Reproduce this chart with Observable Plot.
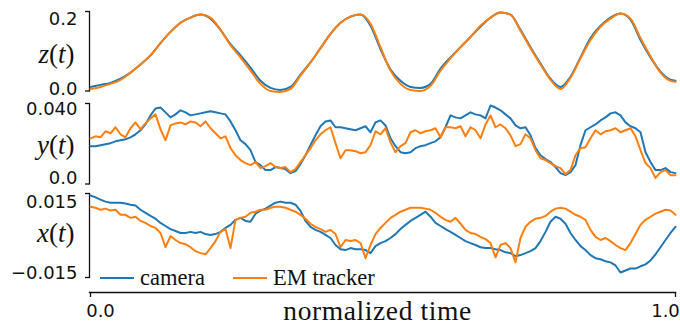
<!DOCTYPE html>
<html><head><meta charset="utf-8">
<script src="https://cdn.jsdelivr.net/npm/d3@7"></script>
<script src="https://cdn.jsdelivr.net/npm/@observablehq/plot@0.6"></script>
<style>
body{margin:0;background:#fff;}
#chart{position:relative;width:680px;height:326px;overflow:hidden;background:#fff;}
#chart svg{display:block;}
</style></head><body><div id="chart"></div>
<script>
// ---- data ----
const seriesNames = ["camera", "EM tracker"];
const seriesColors = ["#1f77b4", "#ff7f0e"];
const xLabel = "normalized time";
const xTicks = [0, 1];
const xTickLabels = ["0.0", "1.0"];

// z(t) panel (sampled every ~1.7% of normalized time)
const zTime = d3.range(60).map(i => Math.min(1, i / 58.5));
const zCamera = [.0103,.0154,.0205,.0308,.0462,.0667,.0897,.1205,.1487,.1718,.1846,.1923,.1821,.1538,.1179,.0897,.0590,.0256,.0077,.0026,.0103,.0410,.0718,.1077,.1436,.1718,.1872,.1923,.1641,.1051,.0538,.0256,.0103,.0077,.0179,.0564,.0846,.1103,.1359,.1615,.1846,.1974,.1923,.1538,.1103,.0692,.0308,.0103,.0359,.0846,.1333,.1641,.1846,.1949,.1795,.1282,.0846,.0487,.0282,.0256];
const zTracker = [.0051,.0103,.0179,.0282,.0462,.0667,.0897,.1205,.1487,.1718,.1846,.1923,.1846,.1538,.1154,.0846,.0513,.0179,.0000,-.0026,.0051,.0385,.0718,.1077,.1436,.1718,.1872,.1923,.1692,.1103,.0513,.0179,.0026,.0000,.0128,.0513,.0821,.1103,.1359,.1641,.1846,.1974,.1923,.1513,.1077,.0667,.0282,.0051,.0333,.0821,.1282,.1615,.1821,.1949,.1821,.1333,.0872,.0462,.0256,.0231];
const zTicks = [0, 0.2];
const zTickLabels = ["0.0", "0.2"];

// y(t) and x(t) panels (118 samples)
const tTime = d3.range(118).map(i => i / 117);
const yCamera = [.0188,.0188,.0193,.0198,.0203,.0212,.0217,.0222,.0232,.0247,.0267,.0296,.0341,.0375,.0380,.0356,.0331,.0346,.0366,.0356,.0341,.0346,.0351,.0356,.0361,.0356,.0351,.0346,.0311,.0267,.0217,.0198,.0168,.0109,.0094,.0069,.0069,.0084,.0079,.0074,.0054,.0064,.0099,.0143,.0193,.0242,.0287,.0311,.0316,.0282,.0282,.0277,.0272,.0267,.0277,.0287,.0257,.0306,.0316,.0291,.0227,.0188,.0158,.0153,.0158,.0178,.0188,.0193,.0203,.0212,.0232,.0282,.0341,.0331,.0326,.0341,.0356,.0346,.0341,.0326,.0390,.0380,.0366,.0346,.0326,.0291,.0277,.0282,.0242,.0178,.0143,.0124,.0109,.0084,.0054,.0044,.0059,.0094,.0193,.0267,.0282,.0296,.0316,.0331,.0351,.0356,.0341,.0306,.0287,.0277,.0257,.0158,.0109,.0069,.0069,.0079,.0059,.0054];
const yTracker = [.0227,.0237,.0232,.0262,.0252,.0282,.0247,.0232,.0277,.0306,.0272,.0301,.0326,.0346,.0272,.0217,.0291,.0301,.0306,.0296,.0311,.0306,.0287,.0311,.0277,.0252,.0227,.0237,.0178,.0143,.0119,.0104,.0094,.0109,.0079,.0089,.0104,.0084,.0079,.0084,.0059,.0074,.0109,.0143,.0178,.0217,.0247,.0267,.0282,.0203,.0128,.0168,.0168,.0163,.0153,.0158,.0193,.0262,.0247,.0277,.0207,.0158,.0188,.0203,.0257,.0267,.0252,.0262,.0267,.0277,.0232,.0282,.0282,.0277,.0287,.0237,.0282,.0267,.0227,.0296,.0341,.0282,.0296,.0277,.0242,.0188,.0198,.0247,.0227,.0168,.0128,.0119,.0104,.0089,.0079,.0049,.0069,.0143,.0178,.0183,.0227,.0267,.0247,.0262,.0267,.0277,.0257,.0267,.0277,.0237,.0168,.0104,.0079,.0030,.0059,.0069,.0044,.0044];
const yTicks = [0, 0.04];
const yTickLabels = ["0.0", "0.040"];

const xCamera = [.0143,.0136,.0128,.0121,.0117,.0117,.0117,.0114,.0110,.0107,.0092,.0081,.0070,.0060,.0045,.0034,.0023,.0016,.0009,.0009,.0013,.0009,.0013,.0005,.0002,.0005,.0013,.0027,.0038,.0056,.0063,.0052,.0049,.0078,.0089,.0096,.0107,.0117,.0121,.0117,.0117,.0110,.0088,.0052,.0031,.0020,.0013,.0002,-.0009,-.0034,-.0049,-.0052,-.0045,-.0049,-.0049,-.0052,-.0063,-.0038,-.0027,-.0020,-.0009,.0005,.0023,.0038,.0052,.0063,.0074,.0085,.0067,.0045,.0034,.0023,.0013,.0002,-.0009,-.0020,-.0027,-.0034,-.0042,-.0045,-.0045,-.0049,-.0052,-.0060,-.0063,-.0074,-.0070,-.0063,-.0056,-.0045,-.0020,.0013,.0049,.0067,.0060,.0042,.0009,-.0016,-.0038,-.0052,-.0070,-.0081,-.0085,-.0092,-.0096,-.0107,-.0132,-.0125,-.0118,-.0118,-.0110,-.0103,-.0089,-.0067,-.0042,-.0016,.0009,.0031];
const xTracker = [.0103,.0099,.0092,.0096,.0089,.0092,.0074,.0074,.0063,.0067,.0052,.0045,.0034,.0027,.0009,-.0042,-.0002,-.0016,-.0027,-.0031,-.0042,-.0056,-.0063,-.0067,-.0045,-.0020,.0013,.0023,-.0045,.0056,.0063,.0067,.0081,.0085,.0092,.0092,.0099,.0103,.0103,.0099,.0092,.0085,.0074,.0060,.0042,.0031,.0023,.0013,.0020,.0005,-.0042,-.0016,-.0020,-.0016,-.0027,-.0081,-.0034,.0005,.0027,.0045,.0063,.0074,.0085,.0092,.0099,.0099,.0099,.0096,.0092,.0081,.0067,.0056,.0049,.0063,.0042,.0020,.0009,.0005,-.0005,-.0013,-.0027,-.0078,-.0034,-.0027,-.0045,-.0096,-.0009,.0031,.0049,.0060,.0063,.0070,.0085,.0096,.0099,.0096,.0085,.0074,.0067,.0056,.0020,-.0005,-.0016,-.0009,-.0020,-.0034,-.0045,-.0052,-.0027,.0005,.0038,.0056,.0067,.0078,.0085,.0092,.0089,.0074];
const xTicksVal = [-0.015, 0.015];
const xTickLabelsVal = ["\u22120.015", "0.015"];

// ---- drawing ----
const root = d3.select("#chart");
const tickFont = "'DejaVu Sans', sans-serif";
const serif = "'Liberation Serif', serif";

function panel(o) {
  const rows = o.time.map((t, i) => ({t, cam: o.cam[i], em: o.em[i]}));
  const tickRows = o.ticks.map((v, i) => ({v, s: o.tickLabels[i]}));
  const svg = Plot.plot({
    width: 680, height: o.height,
    marginLeft: 89, marginRight: 5, marginTop: o.mt, marginBottom: o.mb, insetLeft: 1,
    style: {background: "transparent", overflow: "visible", color: "#111"},
    x: {domain: [0, 1], axis: null},
    y: {domain: o.domain, ticks: o.ticks, tickFormat: () => "", tickSize: 4, line: true, label: null},
    marks: [
      Plot.line(rows, {x: "t", y: "cam", stroke: seriesColors[0], strokeWidth: 2, curve: o.curve}),
      Plot.line(rows, {x: "t", y: "em", stroke: seriesColors[1], strokeWidth: 2, curve: o.curve}),
      Plot.text([tickRows[0]], {y: "v", text: "s", frameAnchor: "left", lineAnchor: "middle", textAnchor: "end", dx: -12, dy: o.dyBottom, fontSize: 18, fill: "#111"}),
      Plot.text([tickRows[1]], {y: "v", text: "s", frameAnchor: "left", lineAnchor: "middle", textAnchor: "end", dx: -12, dy: o.dyTop, fontSize: 18, fill: "#111"}),
      Plot.text([o.label], {text: d => d, frameAnchor: "left", lineAnchor: "middle", textAnchor: "end", dx: -15, dy: o.labelDy, fontSize: 27, fill: "#111"})
    ]
  });
  root.node().appendChild(svg);
}

panel({time: zTime, cam: zCamera, em: zTracker, domain: [0, 0.2], ticks: zTicks, tickLabels: zTickLabels, curve: "monotone-x",
  label: "z(t)", height: 96, mt: 11, mb: 5.5, dyTop: 7.3, dyBottom: -2.2, labelDy: 3});
panel({time: tTime, cam: yCamera, em: yTracker, domain: [0, 0.04], ticks: yTicks, tickLabels: yTickLabels, curve: "linear",
  label: "y(t)", height: 92, mt: 7, mb: 4.5, dyTop: 6.1, dyBottom: -6, labelDy: 2});
panel({time: tTime, cam: xCamera, em: xTracker, domain: [-0.015, 0.015], ticks: xTicksVal, tickLabels: xTickLabelsVal, curve: "linear",
  label: "x(t)", height: 96, mt: 5, mb: 7, dyTop: 8.8, dyBottom: -4.5, labelDy: -2});

// shared time axis
const axisRows = xTicks.map((v, i) => ({v, s: xTickLabels[i]}));
const axisSvg = Plot.plot({
  width: 680, height: 42, marginLeft: 89, marginRight: 5, marginTop: 0, marginBottom: 34, insetLeft: 1,
  style: {background: "transparent", overflow: "visible", color: "#111"},
  x: {domain: [0, 1], ticks: xTicks, tickFormat: () => "", tickSize: 5, line: true, label: null},
  marks: [
    Plot.text([axisRows[0]], {x: "v", text: "s", frameAnchor: "bottom", lineAnchor: "middle", dx: 10, dy: 19, fontSize: 18, fill: "#111"}),
    Plot.text([axisRows[1]], {x: "v", text: "s", frameAnchor: "bottom", lineAnchor: "middle", dx: -10, dy: 19, fontSize: 18, fill: "#111"}),
    Plot.text([xLabel], {text: d => d, frameAnchor: "bottom", lineAnchor: "middle", dx: -5, dy: 18.5, fontSize: 27.5, fill: "#111"})
  ]
});
root.node().appendChild(axisSvg);

// slightly heavier axis lines and ticks
root.selectAll("[aria-label$='axis tick'], [aria-label$='axis line'], [aria-label='frame']")
  .attr("stroke-width", 1.3);

// fonts: serif for words, DejaVu Sans for numbers
root.selectAll("text").each(function () {
  const s = this.textContent;
  const isNumber = /^[\u2212\-]?[0-9.]+$/.test(s);
  this.style.fontFamily = isNumber ? tickFont : serif;
  if (s === xLabel) this.style.letterSpacing = "0.6px";
  const m = /^([xyz])\(t\)$/.exec(s);
  if (!m) return;
  const el = d3.select(this);
  el.text(null);
  el.append("tspan").style("font-style", "italic").text(m[1]);
  el.append("tspan").text("(");
  el.append("tspan").style("font-style", "italic").text("t");
  el.append("tspan").text(")");
});

// legend
const leg = root.append("svg").attr("width", 680).attr("height", 326)
  .style("position", "absolute").style("left", 0).style("top", 0).style("pointer-events", "none");
const legX = [100, 233];
seriesNames.forEach((name, i) => {
  leg.append("line").attr("x1", legX[i]).attr("x2", legX[i] + 34).attr("y1", 278).attr("y2", 278)
    .attr("stroke", seriesColors[i]).attr("stroke-width", 2);
  leg.append("text").attr("x", legX[i] + 40).attr("y", 285)
    .style("font-family", serif).style("font-size", "22.5px").attr("fill", "#111").text(name);
});
</script></body></html>
